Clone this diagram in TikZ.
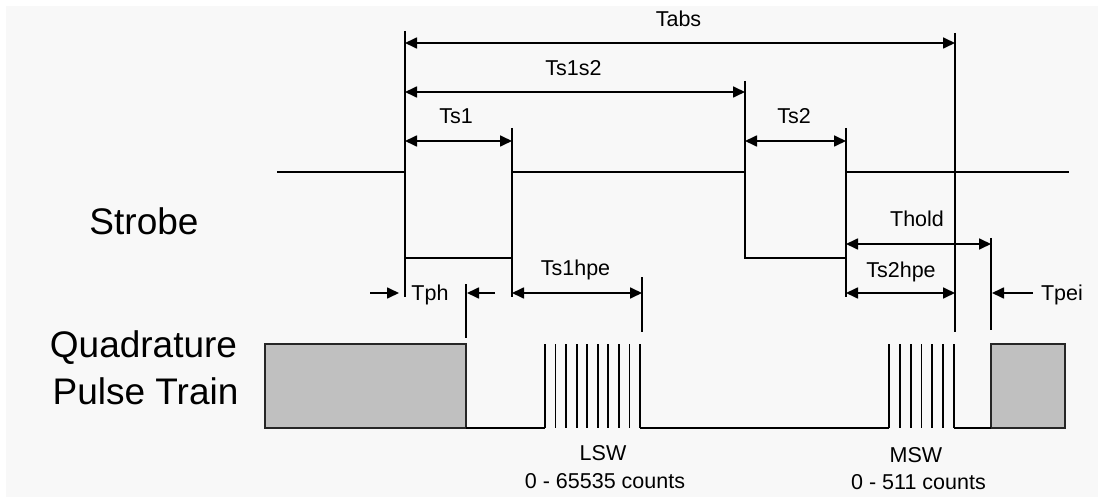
\documentclass[tikz,border=0pt]{standalone}
\usepackage{fontspec}
\setmainfont{Liberation Sans}
\usetikzlibrary{arrows.meta}
\definecolor{bgc}{HTML}{F8F8F8}
\definecolor{boxc}{HTML}{C0C0C0}
\begin{document}
\begin{tikzpicture}[x=1pt,y=-1pt,line width=1.7pt,line cap=butt,
  dimline/.style={{Triangle[length=12pt,width=11pt]}-{Triangle[length=12pt,width=11pt]}},
  tipline/.style={-{Triangle[length=12pt,width=11pt]}},
  lbl/.style={font=\fontsize{21.5}{24}\selectfont,anchor=base,inner sep=0pt},
  biglbl/.style={font=\fontsize{37}{44}\selectfont,anchor=base,inner sep=0pt},
  grayblock/.style={fill=boxc,draw=black!85,line width=1.5pt}]
\useasboundingbox (0,0) rectangle (1098,497);
\fill[white] (0,0) rectangle (1098,497);
\fill[bgc] (6,6) rectangle (1098,497);

% strobe waveform
\coordinate (s0) at (277,172);
\coordinate (s1) at (405,172);
\coordinate (s2) at (405,258);
\coordinate (s3) at (512,258);
\coordinate (s4) at (512,172);
\coordinate (s5) at (745,172);
\coordinate (s6) at (745,258);
\coordinate (s7) at (846,258);
\coordinate (s8) at (846,172);
\coordinate (s9) at (1069,172);
\draw (s0) -- (s1) -- (s2) -- (s3) -- (s4) -- (s5) -- (s6) -- (s7) -- (s8) -- (s9);

% vertical marker lines
\coordinate (m1t) at (405,31);  \coordinate (m1b) at (405,297);
\coordinate (m2t) at (512,128); \coordinate (m2b) at (512,297);
\coordinate (m3t) at (745,81);  \coordinate (m3b) at (745,172);
\coordinate (m4t) at (846,128); \coordinate (m4b) at (846,297);
\coordinate (m5t) at (955,33);  \coordinate (m5b) at (955,332);
\coordinate (m6t) at (991,238); \coordinate (m6b) at (991,330);
\coordinate (m7t) at (466,284); \coordinate (m7b) at (466,338);
\coordinate (m8t) at (642,277); \coordinate (m8b) at (642,332);
\foreach \i in {1,...,8} \draw (m\i t) -- (m\i b);

% dimension arrows
\coordinate (tabsL) at (405,43);  \coordinate (tabsR) at (955,43);
\coordinate (tssL) at (405,92);   \coordinate (tssR) at (745,92);
\coordinate (ts1L) at (405,141);  \coordinate (ts1R) at (512,141);
\coordinate (ts2L) at (745,141);  \coordinate (ts2R) at (846,141);
\coordinate (thL) at (846,244);   \coordinate (thR) at (991,244);
\coordinate (t2hL) at (846,293);  \coordinate (t2hR) at (955,293);
\coordinate (t1hL) at (512,293);  \coordinate (t1hR) at (642,293);
\draw[dimline] (tabsL) -- (tabsR);
\draw[dimline] (tssL) -- (tssR);
\draw[dimline] (ts1L) -- (ts1R);
\draw[dimline] (ts2L) -- (ts2R);
\draw[dimline] (thL) -- (thR);
\draw[dimline] (t2hL) -- (t2hR);
\draw[dimline] (t1hL) -- (t1hR);

\coordinate (tphA) at (370,293); \coordinate (tphB) at (399,293);
\coordinate (tphC) at (495,293); \coordinate (tphD) at (467,293);
\coordinate (tpeA) at (1033,293); \coordinate (tpeB) at (992,293);
\draw[tipline] (tphA) -- (tphB);
\draw[tipline] (tphC) -- (tphD);
\draw[tipline] (tpeA) -- (tpeB);

% labels
\node[lbl] (Ltabs) at (678.5,27) {Tabs};
\node[lbl] (Ltss) at (573.5,76) {Ts1s2};
\node[lbl] (Lts1) at (456,124) {Ts1};
\node[lbl] (Lts2) at (794,124) {Ts2};
\node[lbl] (Lth) at (917,227) {Thold};
\node[lbl] (Lt2h) at (901,277) {Ts2hpe};
\node[lbl] (Lt1h) at (575.5,276) {Ts1hpe};
\node[lbl] (Ltph) at (430,300) {Tph};
\node[lbl] (Ltpe) at (1062,300) {Tpei};
\node[lbl] (Llsw) at (603,460) {LSW};
\node[lbl] (Llswc) at (605,488) {0 - 65535 counts};
\node[lbl] (Lmsw) at (916,462) {MSW};
\node[lbl] (Lmswc) at (918.5,489) {0 - 511 counts};
\node[biglbl] (Lstrobe) at (144,235) {Strobe};
\node[biglbl] (Lquad) at (143.5,357) {Quadrature};
\node[biglbl] (Lpulse) at (145.5,404) {Pulse Train};

% quadrature pulse train
\draw[grayblock] (265,344) rectangle (466,428);
\draw[grayblock] (991,344) rectangle (1065,428);
\coordinate (b0) at (466,428); \coordinate (b1) at (545,428);
\coordinate (b2) at (640,428); \coordinate (b3) at (889,428);
\coordinate (b4) at (954,428); \coordinate (b5) at (991,428);
\draw (b0) -- (b1);
\draw (b2) -- (b3);
\draw (b4) -- (b5);
\foreach \k in {0,...,9} \draw ({545+\k*10.556},344) -- ({545+\k*10.556},428);
\foreach \k in {0,...,6} \draw ({889+\k*10.833},344) -- ({889+\k*10.833},428);
\end{tikzpicture}
\end{document}
